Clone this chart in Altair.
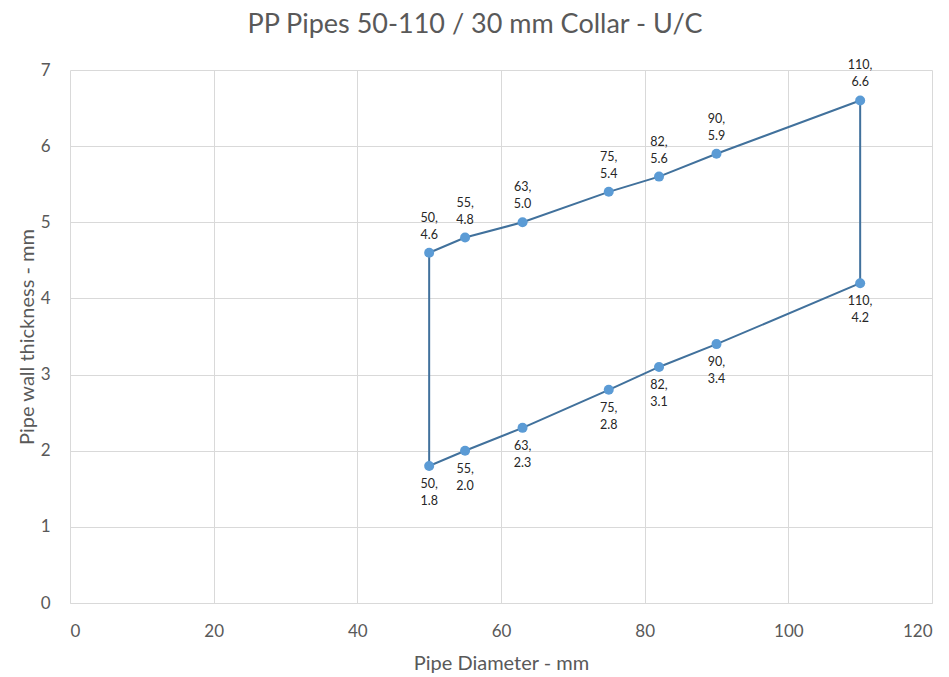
import altair as alt
import pandas as pd

diameters = [50, 55, 63, 75, 82, 90, 110]
upper_thickness = [4.6, 4.8, 5.0, 5.4, 5.6, 5.9, 6.6]
lower_thickness = [1.8, 2.0, 2.3, 2.8, 3.1, 3.4, 4.2]
x_ticks = [0, 20, 40, 60, 80, 100, 120]
y_ticks = [0, 1, 2, 3, 4, 5, 6, 7]

FONT = "Lato"
GREY = "#595959"

# closed outline: upper left->right, lower right->left, back to start
path_x = diameters + diameters[::-1] + [diameters[0]]
path_y = upper_thickness + lower_thickness[::-1] + [upper_thickness[0]]
path = pd.DataFrame({"x": path_x, "y": path_y, "order": list(range(len(path_x)))})

pts_up = pd.DataFrame({"x": diameters, "y": upper_thickness,
                       "label": [f"{d},\n{v:.1f}" for d, v in zip(diameters, upper_thickness)]})
pts_lo = pd.DataFrame({"x": diameters, "y": lower_thickness,
                       "label": [f"{d},\n{v:.1f}" for d, v in zip(diameters, lower_thickness)]})
pts = pd.concat([pts_up, pts_lo])

xs = alt.X("x:Q", scale=alt.Scale(domain=[0, 120], nice=False),
           axis=alt.Axis(values=x_ticks, title="Pipe Diameter - mm", grid=True,
                         gridColor="#d9d9d9", domainColor="#d9d9d9", ticks=False,
                         labelPadding=20, titlePadding=14, labelFontSize=17,
                         titleFontSize=20, labelColor=GREY, titleColor=GREY,
                         labelFont=FONT, titleFont=FONT, titleFontWeight="normal"))
ys = alt.Y("y:Q", scale=alt.Scale(domain=[0, 7], nice=False),
           axis=alt.Axis(values=y_ticks, title="Pipe wall thickness - mm", grid=True,
                         gridColor="#d9d9d9", domain=False, ticks=False,
                         labelPadding=20, titlePadding=3, labelFontSize=17,
                         titleFontSize=20, labelColor=GREY, titleColor=GREY,
                         labelFont=FONT, titleFont=FONT, titleFontWeight="normal"))

line = alt.Chart(path).mark_line(color="#41719c", strokeWidth=2).encode(
    x=xs, y=ys, order="order:Q")
points = alt.Chart(pts).mark_circle(color="#5b9bd5", size=100, opacity=1).encode(x=xs, y=ys)
lab_up = alt.Chart(pts_up).mark_text(lineBreak="\n", baseline="top", dy=-41, lineHeight=17,
                                     fontSize=12.5, font=FONT, color="#262626").encode(
    x=xs, y=ys, text="label:N")
lab_lo = alt.Chart(pts_lo).mark_text(lineBreak="\n", baseline="top", dy=12, lineHeight=17,
                                     fontSize=12.5, font=FONT, color="#262626").encode(
    x=xs, y=ys, text="label:N")

chart = alt.layer(line, points, lab_up, lab_lo).properties(
    width=862, height=533,
    title=alt.TitleParams("PP Pipes 50-110 / 30 mm Collar - U/C", fontSize=27,
                          font=FONT, color=GREY, fontWeight="normal", anchor="middle",
                          dx=-26, offset=20),
    autosize=alt.AutoSizeParams(type="none"),
    padding={"left": 62, "top": 62, "right": 9, "bottom": 70},
).configure_view(stroke=None)

chart.save("out.html", embed_options={"renderer": "svg", "actions": False})
